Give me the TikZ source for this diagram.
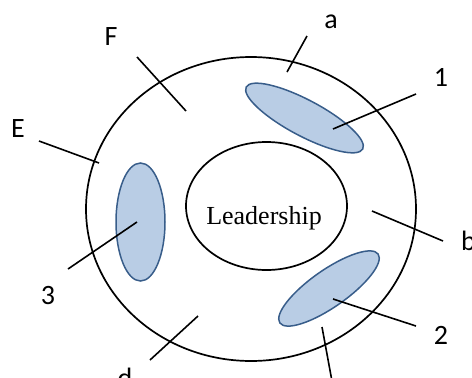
\documentclass[tikz,border=0pt]{standalone}
\usepackage{fontspec}
\setmainfont{Liberation Serif}
\newfontfamily\lblfont{Carlito}
\usetikzlibrary{shapes.geometric}
\definecolor{blobfill}{HTML}{B9CDE5}
\definecolor{blobline}{HTML}{385D8A}
\tikzset{
  ring/.style={ellipse, draw=black, line width=1.7pt, inner sep=0pt},
  blob/.style={ellipse, draw=blobline, fill=blobfill, line width=1.5pt, inner sep=0pt},
  leader/.style={draw=black, line width=1.6pt},
  lbl/.style={font=\lblfont\fontsize{28}{30}\selectfont, anchor=base, inner sep=0pt},
}
\begin{document}
\begin{tikzpicture}[x=1pt,y=-1pt]
\useasboundingbox (0,0) rectangle (472,378);
\clip (0,0) rectangle (472,378);
% outer ring
\node[ring, minimum width=330pt, minimum height=304pt] (outer) at (251,209) {};
% inner ellipse
\node[ring, minimum width=161pt, minimum height=128pt] (lead) at (266.5,206) {};
\node[font=\fontsize{26}{28}\selectfont, anchor=base, inner sep=0pt] (leadtxt) at (264,224) {Leadership};
% blue ellipses
\node[blob, minimum width=132pt, minimum height=36pt, rotate=-28] (b1) at (304.5,118) {};
\node[blob, minimum width=120pt, minimum height=37pt, rotate=35] (b2) at (329,288.5) {};
\node[blob, minimum width=49pt, minimum height=118pt] (b3) at (140.5,222) {};
% labels
\node[lbl] (la) at (331,28) {a};
\node[lbl] (lF) at (111,45) {F};
\node[lbl] (l1) at (441,86) {1};
\node[lbl] (lE) at (18,137) {E};
\node[lbl] (l3) at (48,304) {3};
\node[lbl] (l2) at (441,344) {2};
\node[lbl] (lb) at (468.5,250) {b};
\node[lbl] (ld) at (125,387) {d};
% leader line ends
\coordinate (a1) at (307,36);  \coordinate (a2) at (287,72);
\coordinate (f1) at (137,57);  \coordinate (f2) at (186,111);
\coordinate (o1) at (416,94);  \coordinate (o2) at (333,129);
\coordinate (e1) at (39,141);  \coordinate (e2) at (99,163);
\coordinate (t1) at (68,269);  \coordinate (t2) at (137,222);
\coordinate (bb1) at (372,211); \coordinate (bb2) at (443,241);
\coordinate (w1) at (416,326); \coordinate (w2) at (333,299);
\coordinate (d1) at (198,316); \coordinate (d2) at (150,360);
\coordinate (c1) at (322,327); \coordinate (c2) at (334,392);
\draw[leader] (a1) -- (a2);
\draw[leader] (f1) -- (f2);
\draw[leader] (o1) -- (o2);
\draw[leader] (e1) -- (e2);
\draw[leader] (t1) -- (t2);
\draw[leader] (bb1) -- (bb2);
\draw[leader] (w1) -- (w2);
\draw[leader] (d1) -- (d2);
\draw[leader] (c1) -- (c2);
\end{tikzpicture}
\end{document}
